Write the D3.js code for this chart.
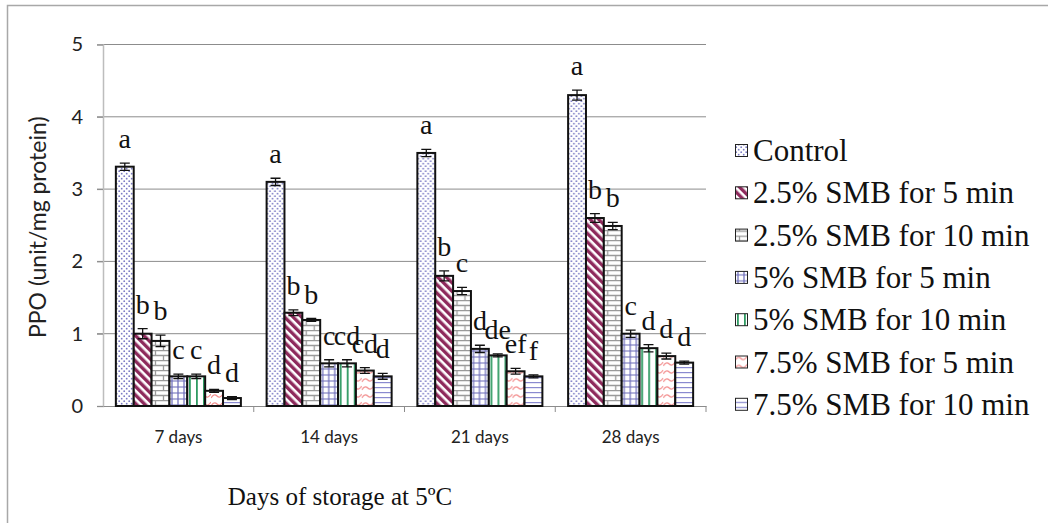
<!DOCTYPE html>
<html>
<head>
<meta charset="utf-8">
<style>
  body { margin: 0; background: #fff; }
  svg { display: block; }
  .serif { font-family: "Liberation Serif", "Times New Roman", serif; }
  .sans { font-family: Lato, "Open Sans", sans-serif; }
</style>
</head>
<body>
<svg id="chart" width="1048" height="523"></svg>
<script src="https://d3js.org/d3.v7.min.js"></script>
<script>
    // data
    const days = ["7 days", "14 days", "21 days", "28 days"]
    const treatments = ["Control", "2.5% SMB for 5 min", "2.5% SMB for 10 min",
        "5% SMB for 5 min", "5% SMB for 10 min", "7.5% SMB for 5 min", "7.5% SMB for 10 min"]
    const ppo = [
        [3.31, 1.00, 0.90, 0.41, 0.41, 0.21, 0.11],
        [3.10, 1.29, 1.19, 0.59, 0.59, 0.49, 0.41],
        [3.50, 1.80, 1.59, 0.79, 0.70, 0.48, 0.41],
        [4.30, 2.60, 2.49, 1.00, 0.80, 0.69, 0.60]
    ]
    const errs = [
        [0.05, 0.07, 0.08, 0.03, 0.03, 0.02, 0.02],
        [0.05, 0.04, 0.02, 0.05, 0.05, 0.04, 0.04],
        [0.05, 0.07, 0.05, 0.05, 0.02, 0.04, 0.02],
        [0.07, 0.06, 0.05, 0.05, 0.05, 0.04, 0.02]
    ]
    const letters = [
        ["a", "b", "b", "c", "c", "d", "d"],
        ["a", "b", "b", "c", "cd", "cd", "d"],
        ["a", "b", "c", "d", "de", "ef", "f"],
        ["a", "b", "b", "c", "d", "d", "d"]
    ]
    const yTicks = [0, 1, 2, 3, 4, 5]

    const svg = d3.select("#chart")
    const defs = svg.append("defs")

    // fill patterns, one per treatment
    function pat(id, w, h) {
        return defs.append("pattern").attr("id", id)
            .attr("patternUnits", "userSpaceOnUse").attr("width", w).attr("height", h)
    }
    let p = pat("p0", 5, 5)
    p.append("rect").attr("width", 5).attr("height", 5).attr("fill", "#fff")
    p.append("circle").attr("cx", 1.2).attr("cy", 1.2).attr("r", 0.9).attr("fill", "#7b7bc4")
    p.append("circle").attr("cx", 3.7).attr("cy", 3.7).attr("r", 0.9).attr("fill", "#7b7bc4")

    p = pat("p1", 6, 6).attr("patternTransform", "rotate(-45)")
    p.append("rect").attr("width", 6).attr("height", 6).attr("fill", "#fff")
    p.append("rect").attr("width", 3.4).attr("height", 6).attr("fill", "#8e2a5c")

    p = pat("p2", 16, 10)
    p.append("rect").attr("width", 16).attr("height", 10).attr("fill", "#fff")
    p.append("path").attr("d", "M0,0.5H16M0,5.5H16M4.5,0.5V5.5M12.5,5.5V10.5")
        .attr("stroke", "#9a9a9a").attr("stroke-width", 1.3).attr("fill", "none")

    p = pat("p3", 6, 6)
    p.append("rect").attr("width", 6).attr("height", 6).attr("fill", "#fff")
    p.append("path").attr("d", "M0,3H6M3,0V6").attr("stroke", "#6a6ab8").attr("stroke-width", 1.2)

    p = pat("p4", 7, 7)
    p.append("rect").attr("width", 7).attr("height", 7).attr("fill", "#fff")
    p.append("rect").attr("x", 2).attr("width", 1.8).attr("height", 7).attr("fill", "#2f9a62")

    p = pat("p5", 12, 8)
    p.append("rect").attr("width", 12).attr("height", 8).attr("fill", "#fff")
    p.append("path").attr("d", "M0,6 Q3,1 6,4 T12,2").attr("stroke", "#f28c8c")
        .attr("stroke-width", 1.2).attr("fill", "none")

    p = pat("p6", 4, 5)
    p.append("rect").attr("width", 4).attr("height", 5).attr("fill", "#fff")
    p.append("rect").attr("y", 2).attr("width", 4).attr("height", 1.2).attr("fill", "#8a8ad0")

    // chart frame
    svg.append("rect").attr("x", 7.5).attr("y", 5.5).attr("width", 1200).attr("height", 700)
        .attr("fill", "none").attr("stroke", "#a8a8a8").attr("stroke-width", 1.5)

    const plotL = 103, plotR = 706, plotT = 44.5, plotB = 406

    const x = d3.scaleBand().domain(days).range([plotL, plotR])
    const xs = d3.scaleBand().domain(treatments).range([0, x.bandwidth()])
        .paddingInner(0).paddingOuter(0.72)
    const y = d3.scaleLinear().domain([0, 5]).range([plotB, plotT])

    // gridlines
    svg.append("g").selectAll("line").data(yTicks.filter(d => d > 0)).join("line")
        .attr("x1", plotL - 6).attr("x2", plotR)
        .attr("y1", d => y(d)).attr("y2", d => y(d))
        .attr("stroke", "#8c8c8c").attr("stroke-width", 1)

    // y axis
    const yAxis = d3.axisLeft(y).tickValues(yTicks).tickFormat(d3.format("d"))
        .tickSize(6).tickPadding(14)
    const gy = svg.append("g").attr("transform", `translate(${plotL},0)`).call(yAxis)
    gy.attr("font-family", null)
    gy.select(".domain").attr("stroke", "#bdbdbd").attr("stroke-width", 1.5)
    gy.selectAll(".tick line").attr("stroke", "#8c8c8c")
    gy.selectAll("text").attr("class", "sans").attr("font-size", 20).attr("fill", "#222")

    // x axis
    const xAxis = d3.axisBottom(x).tickSize(0).tickPadding(25)
    const gx = svg.append("g").attr("transform", `translate(0,${plotB})`).call(xAxis)
    gx.attr("font-family", null)
    gx.select(".domain").attr("stroke", "#8c8c8c").attr("stroke-width", 1.2)
    gx.selectAll("text").attr("class", "sans").attr("font-size", 17).attr("fill", "#222")
    // category separator ticks
    gx.append("g").selectAll("line").data(days.slice(1).concat([null])).join("line")
        .attr("x1", d => d ? x(d) : plotR).attr("x2", d => d ? x(d) : plotR)
        .attr("y1", 0).attr("y2", 6).attr("stroke", "#8c8c8c")

    // bars
    const groups = svg.append("g").selectAll("g").data(days).join("g")
        .attr("transform", d => `translate(${x(d)},0)`)
    groups.selectAll("rect").data((d, i) => treatments.map((t, j) => ({
        t, j, v: ppo[i][j]
    }))).join("rect")
        .attr("x", d => xs(d.t)).attr("width", xs.bandwidth())
        .attr("y", d => y(d.v)).attr("height", d => y(0) - y(d.v))
        .attr("fill", d => `url(#p${d.j})`)
        .attr("stroke", "#111").attr("stroke-width", 2)

    // error bars
    const eb = groups.selectAll("g.err").data((d, i) => treatments.map((t, j) => ({
        t, v: ppo[i][j], e: errs[i][j], l: letters[i][j]
    }))).join("g").attr("class", "err")
    eb.append("path")
        .attr("d", d => {
            const cx = xs(d.t) + xs.bandwidth() / 2
            const y1 = y(d.v + d.e), y0 = y(d.v - d.e)
            return `M${cx - 5},${y1}H${cx + 5}M${cx},${y1}V${y0}M${cx - 5},${y0}H${cx + 5}`
        })
        .attr("stroke", "#111").attr("stroke-width", 1.3).attr("fill", "none")
    // significance letters
    eb.append("text").attr("class", "serif")
        .attr("x", d => xs(d.t) + xs.bandwidth() / 2)
        .attr("y", d => y(d.v + d.e) - 15)
        .attr("text-anchor", "middle")
        .attr("font-size", 28).attr("fill", "#111")
        .text(d => d.l)

    // axis titles
    svg.append("text").attr("class", "sans")
        .attr("transform", `translate(46,${(plotT + plotB) / 2 + 2}) rotate(-90)`)
        .attr("text-anchor", "middle")
        .attr("font-size", 23).attr("fill", "#222")
        .text("PPO (unit/mg protein)")
    svg.append("text").attr("class", "serif")
        .attr("x", 340).attr("y", 505)
        .attr("text-anchor", "middle")
        .attr("font-size", 25).attr("fill", "#111")
        .text("Days of storage at 5ºC")

    // legend
    const lg = svg.append("g").attr("transform", "translate(735,0)")
    const li = lg.selectAll("g").data(treatments).join("g")
        .attr("transform", (d, i) => `translate(0,${151 + i * 42.3})`)
    li.append("rect").attr("x", 0.5).attr("y", -6.5).attr("width", 12).attr("height", 12)
        .attr("fill", (d, i) => `url(#p${i})`).attr("stroke", "#222").attr("stroke-width", 1)
    li.append("text").attr("class", "serif").attr("x", 18).attr("y", 10)
        .style("font-family", "'Liberation Serif', 'Times New Roman', serif")
        .attr("font-size", 31).attr("fill", "#111")
        .text(d => d)
</script>
</body>
</html>
